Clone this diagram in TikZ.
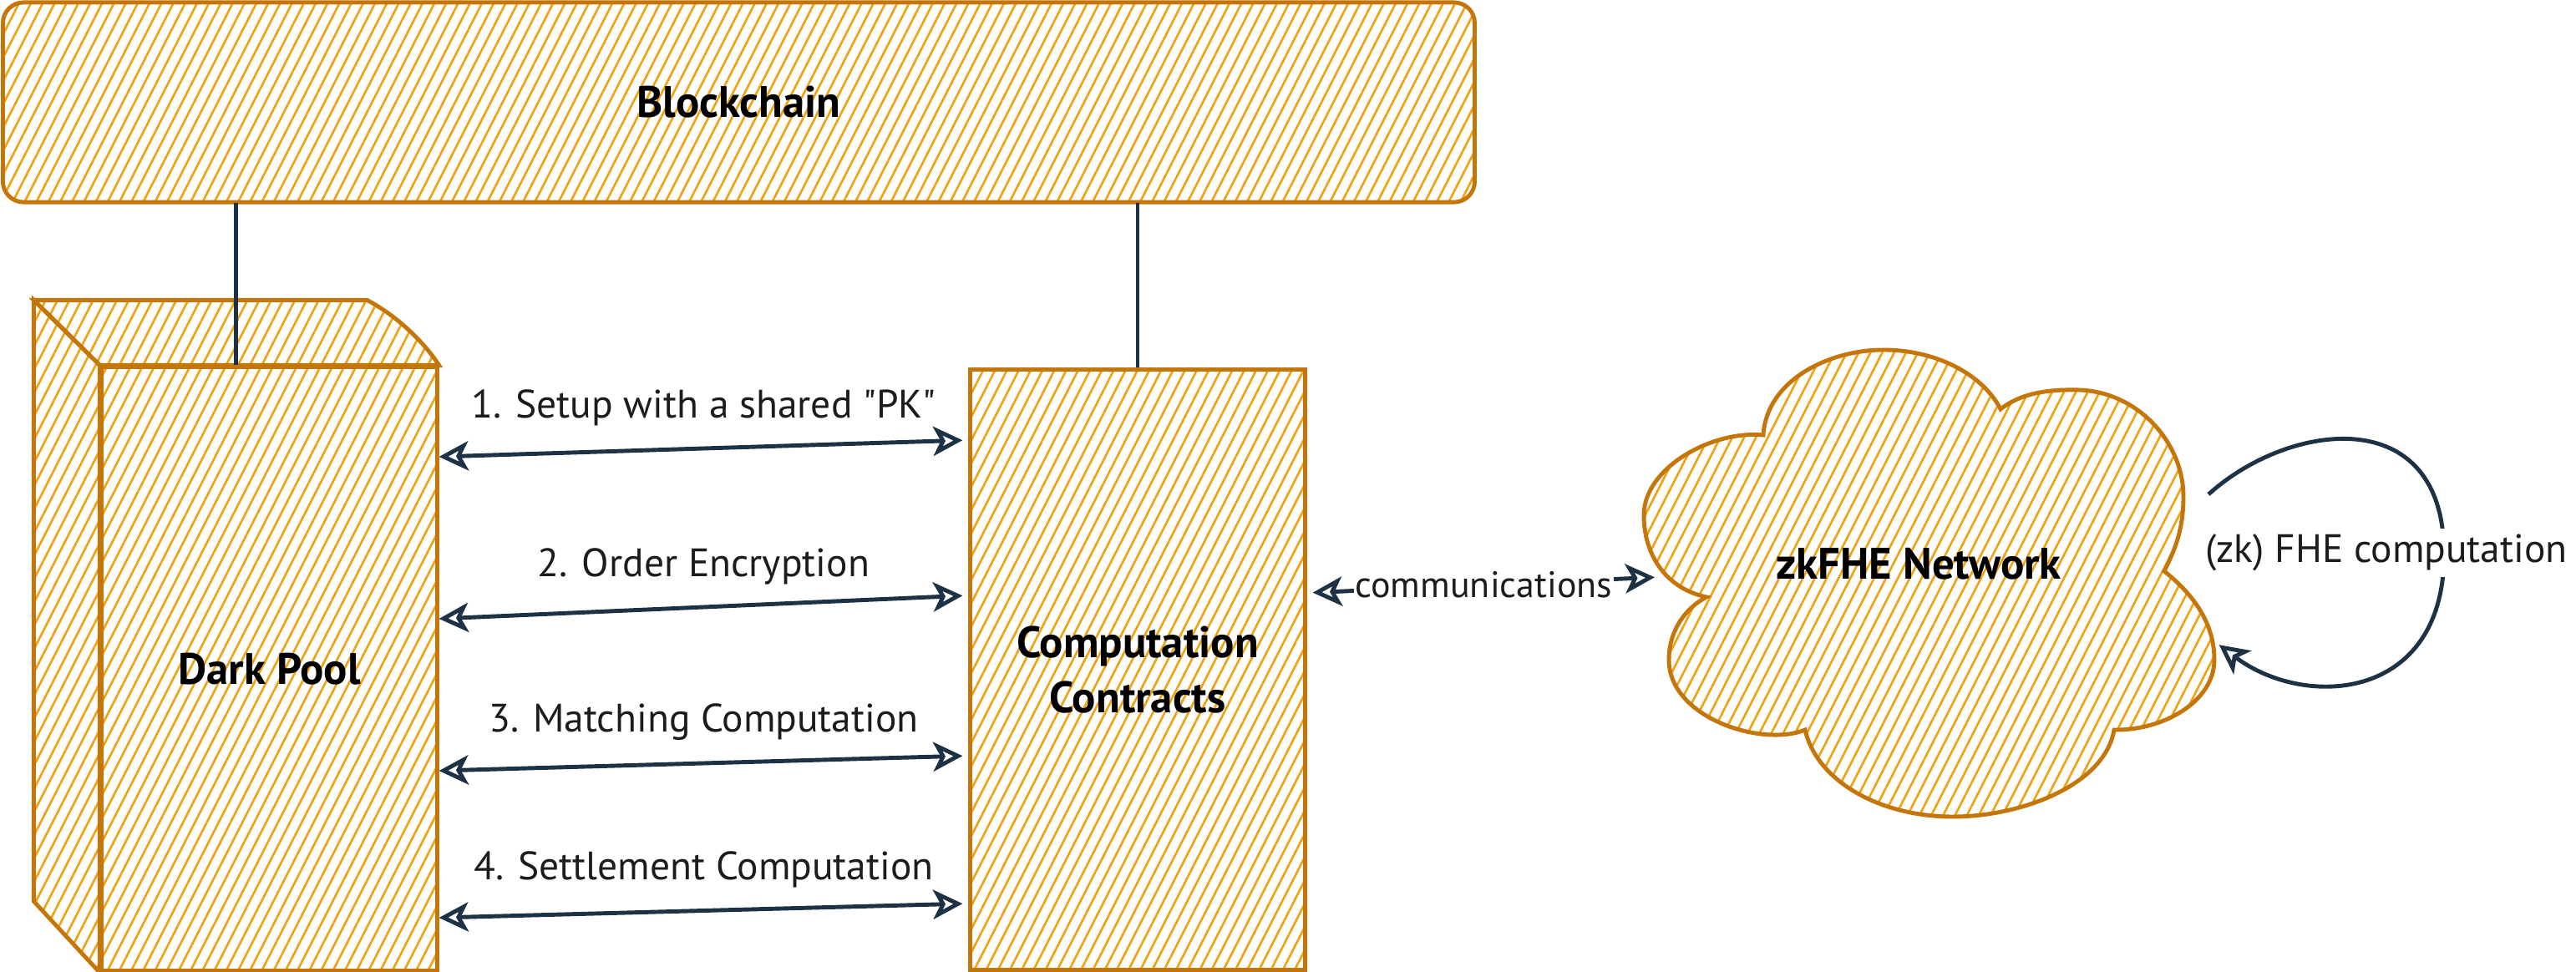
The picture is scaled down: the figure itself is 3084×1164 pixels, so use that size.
\documentclass[tikz,border=0pt]{standalone}
\usepackage{fontspec}
\setmainfont{PT Sans}
\usetikzlibrary{arrows.meta,patterns.meta}
\definecolor{boxline}{RGB}{196,118,10}
\definecolor{hatch}{RGB}{240,162,20}
\definecolor{ink}{RGB}{30,50,70}
\definecolor{textdark}{RGB}{28,28,30}

\begin{document}
\begin{tikzpicture}[x=0.01cm, y=-0.01cm,
  >={Stealth[open, length=10pt, width=10pt, inset=2.6pt]},
  sketch/.style={draw=boxline, line width=1.4pt,
    pattern={Lines[angle=63, distance=3.6pt, line width=0.75pt]}, pattern color=hatch},
  boxlabel/.style={font=\fontsize{15}{19}\selectfont\bfseries, align=center, text=black},
  link/.style={draw=ink, line width=1.4pt},
  flow/.style={draw=ink, line width=1.4pt, shorten >=2pt},
  tag/.style={font=\fontsize{13.5}{16}\selectfont, text=textdark, inner sep=2pt}]

  %% Canvas
  \useasboundingbox (0,0) rectangle (3084,1164);

  %% Blockchain bar
  \node[sketch, rounded corners=7pt, boxlabel, minimum width=17.61cm, minimum height=2.39cm]
    (chain) at (884.5,122.5) {Blockchain};

  %% Dark pool (front face, then top and side)
  \node[sketch, boxlabel, minimum width=4.01cm, minimum height=7.22cm]
    (pool) at (322.5,801) {Dark Pool};
  \draw[sketch] (pool.north west) -- ++(-79,-78) -- ++(399,0)
    .. controls (475,378) and (508,410) .. (pool.north east) -- cycle;
  \draw[sketch] (pool.north west) -- ++(-79,-78) -- ++(0,720) -- (pool.south west) -- cycle;

  %% Computation contracts
  \node[sketch, boxlabel, minimum width=4cm, minimum height=7.18cm]
    (contracts) at (1362,802) {Computation\\Contracts};

  %% zkFHE cloud
  \draw[sketch] (2043,715) .. controls (1995,705) and (1968,665) .. (1968,617)
    .. controls (1968,560) and (2050,515) .. (2111,521)
    .. controls (2115,455) and (2190,419) .. (2255,419)
    .. controls (2320,419) and (2375,450) .. (2395,490)
    .. controls (2420,470) and (2455,466) .. (2490,467)
    .. controls (2560,470) and (2614,530) .. (2614,595)
    .. controls (2614,640) and (2600,665) .. (2591,684)
    .. controls (2630,715) and (2651,750) .. (2651,790)
    .. controls (2651,840) and (2590,875) .. (2531,874)
    .. controls (2520,940) and (2420,978) .. (2338,978)
    .. controls (2250,978) and (2175,935) .. (2161,874)
    .. controls (2110,895) and (1998,860) .. (1998,790)
    .. controls (1998,755) and (2018,728) .. (2043,715) -- cycle;
  \node[boxlabel] (fhenet) at (2297,675) {zkFHE Network};
  \coordinate (cloudW) at (1988,691);
  \coordinate (loopOut) at (2644,592);
  \coordinate (loopIn) at (2651,768);

  %% Ties to the chain
  \draw[link] (pool.north) ++(-40,0) coordinate (poolTop) -- (poolTop |- chain.south);
  \draw[link] (contracts.north) -- (contracts.north |- chain.south);

  %% Steps between pool and contracts
  \draw[flow, <->] (pool.east |- 0,547) -- (contracts.west |- 0,527)
    node[midway, above=5pt, tag] (setup) {1. Setup with a shared \textquotedbl PK\textquotedbl};
  \draw[flow, <->] (pool.east |- 0,741) -- (contracts.west |- 0,713)
    node[midway, above=5pt, tag] (encrypt) {2. Order Encryption};
  \draw[flow, <->] (pool.east |- 0,923) -- (contracts.west |- 0,905)
    node[midway, above=5pt, tag] (matching) {3. Matching Computation};
  \draw[flow, <->] (pool.east |- 0,1099) -- (contracts.west |- 0,1082)
    node[midway, above=5pt, tag] (settle) {4. Settlement Computation};

  %% Contracts <-> network
  \draw[flow, <->, shorten <=2pt] (contracts.east |- 0,710) -- (cloudW)
    node[midway, tag, font=\fontsize{12.5}{15}\selectfont, fill=white, inner sep=0.5pt]
    (comms) {communications};

  %% Self loop
  \draw[flow, ->] (loopOut) .. controls (2740,505) and (2925,480) .. (2926,662)
    .. controls (2927,840) and (2760,850) .. (loopIn);
  \node[tag, fill=white] (fhecomp) at (2857,662) {(zk) FHE computation};
\end{tikzpicture}
\end{document}
